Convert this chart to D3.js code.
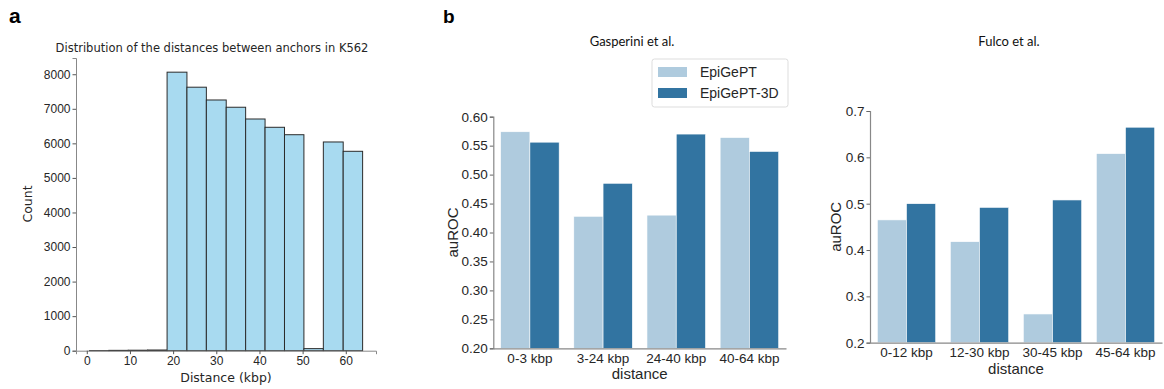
<!DOCTYPE html>
<html>
<head>
<meta charset="utf-8">
<script src="https://cdn.jsdelivr.net/npm/d3@7"></script>
<style>
  body { margin: 0; background: #fff; }
  svg { display: block; }
</style>
</head>
<body>
<div id="chart"></div>
<script>
// histogram of anchor distances (panel a)
const binEdges = [0.6, 5.1, 9.6, 14.1, 18.6, 23.2, 27.7, 32.3, 36.8, 41.3, 45.8, 50.3, 54.8, 59.4, 63.9];
const binCounts = [2, 10, 14, 20, 8060, 7625, 7255, 7045, 6705, 6465, 6250, 60, 6040, 5770];
const histXTicks = [0, 10, 20, 30, 40, 50, 60];
const histYTicks = [0, 1000, 2000, 3000, 4000, 5000, 6000, 7000, 8000];

// auROC bars (panel b)
const models = ["EpiGePT", "EpiGePT-3D"];
const gasperiniCats = ["0-3 kbp", "3-24 kbp", "24-40 kbp", "40-64 kbp"];
const gasperiniBase = [0.574, 0.428, 0.430, 0.564];
const gasperini3D = [0.556, 0.485, 0.570, 0.540];
const gasperiniTicks = [0.20, 0.25, 0.30, 0.35, 0.40, 0.45, 0.50, 0.55, 0.60];
const fulcoCats = ["0-12 kbp", "12-30 kbp", "30-45 kbp", "45-64 kbp"];
const fulcoBase = [0.465, 0.418, 0.262, 0.608];
const fulco3D = [0.500, 0.492, 0.508, 0.665];
const fulcoTicks = [0.2, 0.3, 0.4, 0.5, 0.6, 0.7];

const COLORS = { light: "#afcbde", dark: "#3274a1", hist: "#a8daf0" };
const W = 1164, H = 389;

const svg = d3.select("#chart").append("svg")
  .attr("width", W).attr("height", H);

// ---------- panel a ----------
const ax = d3.scaleLinear().domain([-2.5, 67]).range([76, 376]);
const ay = d3.scaleLinear().domain([0, 8470]).range([350.7, 58]);
const ga = svg.append("g").style("font-family", "'DejaVu Sans', sans-serif");

const bins = binCounts.map((c, i) => ({ x0: binEdges[i], x1: binEdges[i + 1], c }));
ga.selectAll("rect.bin").data(bins).enter().append("rect")
  .attr("class", "bin")
  .attr("x", d => ax(d.x0))
  .attr("width", d => ax(d.x1) - ax(d.x0))
  .attr("y", d => ay(d.c))
  .attr("height", d => ay(0) - ay(d.c))
  .attr("fill", COLORS.hist)
  .attr("stroke", "#2b2b2b")
  .attr("stroke-width", 1);

const axA = ga.append("g").attr("transform", `translate(0,${ay(0)})`)
  .call(d3.axisBottom(ax).tickValues(histXTicks).tickFormat(d3.format("d")).tickSize(3.5).tickPadding(2));
const ayA = ga.append("g").attr("transform", `translate(${ax.range()[0]},0)`)
  .call(d3.axisLeft(ay).tickValues(histYTicks).tickFormat(d3.format("d")).tickSize(3.5).tickPadding(2));
[axA, ayA].forEach(g => {
  g.select(".domain").attr("stroke", "#888");
  g.selectAll(".tick line").attr("stroke", "#555");
  g.selectAll("text").attr("fill", "#262626").style("font-size", "12px");
});

ga.append("text").attr("x", 212).attr("y", 52).attr("text-anchor", "middle")
  .attr("fill", "#262626").style("font-size", "11.5px")
  .text("Distribution of the distances between anchors in K562");
ga.append("text").attr("x", 226).attr("y", 382).attr("text-anchor", "middle")
  .attr("fill", "#262626").style("font-size", "12.5px").text("Distance (kbp)");
ga.append("text").attr("transform", "translate(32,204) rotate(-90)")
  .attr("text-anchor", "middle").attr("fill", "#262626").style("font-size", "12.5px").text("Count");

// panel letters
svg.append("text").attr("x", 9).attr("y", 23).text("a")
  .style("font-family", "'Liberation Sans', Arial, sans-serif").style("font-weight", "bold").style("font-size", "21px");
svg.append("text").attr("x", 443).attr("y", 23).text("b")
  .style("font-family", "'Liberation Sans', Arial, sans-serif").style("font-weight", "bold").style("font-size", "19px");

// ---------- panel b ----------
function groupedBars(cfg) {
  const g = svg.append("g").style("font-family", "'Liberation Sans', Arial, sans-serif");
  const x = d3.scaleBand().domain(cfg.cats).range(cfg.xRange).padding(0);
  const sub = d3.scaleBand().domain(models).range([0, x.bandwidth() * 0.8]).padding(0);
  const y = d3.scaleLinear().domain(cfg.yDomain).range(cfg.yRange);
  const rows = cfg.cats.map((c, i) => ({ cat: c, vals: [cfg.base[i], cfg.threeD[i]] }));

  const grp = g.selectAll("g.grp").data(rows).enter().append("g")
    .attr("transform", d => `translate(${x(d.cat) + x.bandwidth() * 0.1},0)`);
  grp.selectAll("rect").data(d => d.vals.map((v, j) => ({ m: models[j], v })))
    .enter().append("rect")
    .attr("x", d => sub(d.m))
    .attr("width", sub.bandwidth())
    .attr("y", d => y(d.v))
    .attr("height", d => y(cfg.yDomain[0]) - y(d.v))
    .attr("fill", d => d.m === models[0] ? COLORS.light : COLORS.dark)
    .attr("stroke", "#fff").attr("stroke-width", 0.6);

  const xa = g.append("g").attr("transform", `translate(0,${cfg.yRange[0]})`)
    .call(d3.axisBottom(x).tickSize(0).tickPadding(5));
  const ya = g.append("g").attr("transform", `translate(${cfg.xRange[0]},0)`)
    .call(d3.axisLeft(y).tickValues(cfg.ticks).tickFormat(d3.format(cfg.fmt)).tickSize(3.5).tickPadding(2));
  [xa, ya].forEach(a => {
    a.select(".domain").attr("stroke", "#888").attr("stroke-width", 1.2);
    a.selectAll(".tick line").attr("stroke", "#666");
    a.selectAll("text").attr("fill", "#262626").style("font-size", "13.5px");
  });

  const midX = (cfg.xRange[0] + cfg.xRange[1]) / 2;
  g.append("text").attr("x", midX).attr("y", cfg.yRange[0] + 31).attr("text-anchor", "middle")
    .attr("fill", "#262626").style("font-size", "15px").text("distance");
  g.append("text").attr("transform", `translate(${cfg.labelX},${(cfg.yRange[0] + cfg.yRange[1]) / 2}) rotate(-90)`)
    .attr("text-anchor", "middle").attr("fill", "#262626").style("font-size", "15px").text("auROC");
  g.append("text").attr("x", cfg.titleX).attr("y", 46).attr("text-anchor", "middle")
    .style("font-family", "Lato, 'Open Sans', sans-serif").style("font-size", "13px")
    .attr("fill", "#111").text(cfg.title);
  return g;
}

groupedBars({
  cats: gasperiniCats, base: gasperiniBase, threeD: gasperini3D,
  xRange: [493.3, 786], yDomain: [0.2, 0.6], yRange: [348.3, 116.7],
  ticks: gasperiniTicks, fmt: ".2f", labelX: 458, titleX: 632, title: "Gasperini et al."
});
groupedBars({
  cats: fulcoCats, base: fulcoBase, threeD: fulco3D,
  xRange: [870, 1162], yDomain: [0.2, 0.7], yRange: [342.7, 111],
  ticks: fulcoTicks, fmt: ".1f", labelX: 841, titleX: 1009, title: "Fulco et al."
});

// legend
const lg = svg.append("g").attr("transform", "translate(652,59)")
  .style("font-family", "'Liberation Sans', Arial, sans-serif");
lg.append("rect").attr("width", 136).attr("height", 48).attr("rx", 2.5)
  .attr("fill", "#fff").attr("stroke", "#ddd");
models.forEach((m, i) => {
  lg.append("rect").attr("x", 6).attr("y", 8 + i * 21).attr("width", 29).attr("height", 10)
    .attr("fill", i === 0 ? COLORS.light : COLORS.dark);
  lg.append("text").attr("x", 48).attr("y", 18 + i * 21).attr("fill", "#262626")
    .style("font-size", "14px").text(m);
});
</script>
</body>
</html>
